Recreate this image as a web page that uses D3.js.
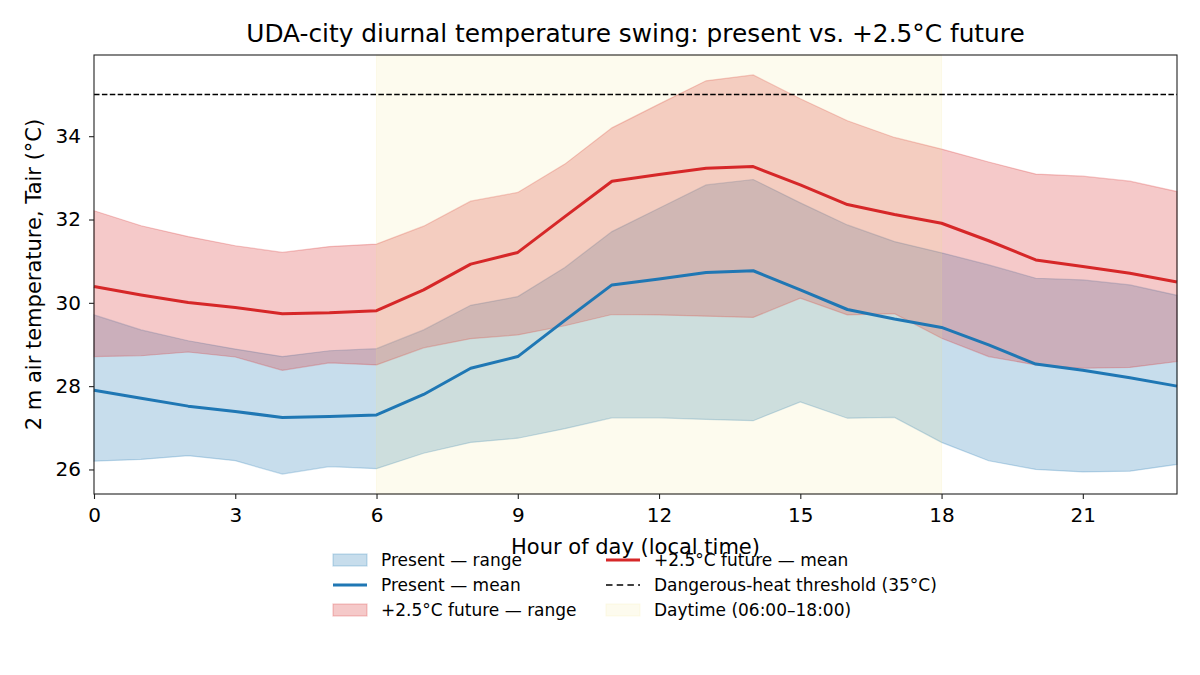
<!DOCTYPE html>
<html lang="en">
<head>
<meta charset="utf-8">
<title>Diurnal temperature swing</title>
<style>
  body { margin: 0; background: #fff; }
  svg text { font-family: "DejaVu Sans", sans-serif; fill: #000; }
</style>
</head>
<body>
<svg id="chart" width="1200" height="675"></svg>
<script src="https://cdn.jsdelivr.net/npm/d3@7"></script>
<script>
// hours 0..23
const hours = d3.range(0, 24);

const presentMin = [26.20, 26.24, 26.33, 26.21, 25.89, 26.07, 26.02, 26.39, 26.65, 26.75, 26.98, 27.24,
                    27.24, 27.20, 27.17, 27.62, 27.23, 27.25, 26.65, 26.21, 26.00, 25.94, 25.96, 26.12];
const presentMean = [27.90, 27.71, 27.52, 27.39, 27.25, 27.27, 27.31, 27.80, 28.43, 28.71, 29.58, 30.43,
                     30.57, 30.73, 30.77, 30.31, 29.84, 29.61, 29.41, 28.99, 28.53, 28.38, 28.20, 28.00];
const presentMax = [29.71, 29.35, 29.09, 28.89, 28.71, 28.85, 28.90, 29.35, 29.94, 30.15, 30.85, 31.71,
                    32.27, 32.83, 32.96, 32.40, 31.87, 31.47, 31.20, 30.91, 30.59, 30.55, 30.43, 30.18];

const futureMin = [28.71, 28.73, 28.82, 28.70, 28.38, 28.56, 28.51, 28.92, 29.14, 29.23, 29.45, 29.72,
                   29.71, 29.68, 29.65, 30.11, 29.71, 29.74, 29.15, 28.71, 28.51, 28.43, 28.45, 28.59];
const futureMean = [30.39, 30.19, 30.01, 29.89, 29.74, 29.76, 29.81, 30.31, 30.93, 31.21, 32.07, 32.92,
                    33.08, 33.23, 33.27, 32.83, 32.36, 32.12, 31.91, 31.49, 31.03, 30.87, 30.71, 30.50];
const futureMax = [32.21, 31.85, 31.59, 31.37, 31.21, 31.35, 31.41, 31.84, 32.44, 32.65, 33.33, 34.20,
                   34.77, 35.33, 35.47, 34.90, 34.37, 33.97, 33.69, 33.38, 33.09, 33.04, 32.92, 32.67];

const threshold = 35;
const daytime = [6, 18];
const xTicks = [0, 3, 6, 9, 12, 15, 18, 21];
const yTicks = [26, 28, 30, 32, 34];

const BLUE = "#1f77b4", RED = "#d62728", SPAN = "#f0e68c";

const svg = d3.select("#chart");
const margin = {left: 94, right: 23, top: 55, bottom: 181};
const W = 1200, H = 675;

const x = d3.scaleLinear().domain([0, 23]).range([margin.left, W - margin.right]);
const allVals = presentMin.concat(futureMax);
const lo = d3.min(allVals), hi = d3.max(allVals), pad = (hi - lo) * 0.05;
const y = d3.scaleLinear().domain([lo - pad, hi + pad]).range([H - margin.bottom, margin.top]);

const idx = hours.map((h, i) => i);
const band = (loArr, hiArr) => d3.area()
  .x(i => x(hours[i])).y0(i => y(loArr[i])).y1(i => y(hiArr[i]))(idx);
const line = arr => d3.line().x(i => x(hours[i])).y(i => y(arr[i]))(idx);

// ranges
svg.append("path").attr("d", band(presentMin, presentMax))
  .attr("fill", BLUE).attr("fill-opacity", 0.25)
  .attr("stroke", BLUE).attr("stroke-opacity", 0.25).attr("stroke-width", 1.2);
svg.append("path").attr("d", band(futureMin, futureMax))
  .attr("fill", RED).attr("fill-opacity", 0.25)
  .attr("stroke", RED).attr("stroke-opacity", 0.25).attr("stroke-width", 1.2);

// daytime span
svg.append("rect")
  .attr("x", x(daytime[0])).attr("width", x(daytime[1]) - x(daytime[0]))
  .attr("y", margin.top).attr("height", H - margin.bottom - margin.top)
  .attr("fill", SPAN).attr("fill-opacity", 0.15)
  .attr("stroke", SPAN).attr("stroke-opacity", 0.15);

// means
svg.append("path").attr("d", line(presentMean)).attr("fill", "none")
  .attr("stroke", BLUE).attr("stroke-width", 3).attr("stroke-linejoin", "round");
svg.append("path").attr("d", line(futureMean)).attr("fill", "none")
  .attr("stroke", RED).attr("stroke-width", 3).attr("stroke-linejoin", "round");

// threshold
svg.append("line")
  .attr("x1", margin.left).attr("x2", W - margin.right)
  .attr("y1", y(threshold)).attr("y2", y(threshold))
  .attr("stroke", "#000").attr("stroke-width", 1.5).attr("stroke-dasharray", "5.5,2.4");

// axes
const xAxis = svg.append("g").attr("transform", `translate(0,${H - margin.bottom})`)
  .call(d3.axisBottom(x).tickValues(xTicks).tickSize(5).tickPadding(9));
const yAxis = svg.append("g").attr("transform", `translate(${margin.left},0)`)
  .call(d3.axisLeft(y).tickValues(yTicks).tickSize(5).tickPadding(8));
[xAxis, yAxis].forEach(g => {
  g.selectAll("text").attr("font-size", 20).attr("font-family", "DejaVu Sans").attr("fill", "#000");
  g.selectAll("line").attr("stroke", "#222").attr("stroke-width", 1.1);
  g.select(".domain").remove();
});

svg.append("rect")
  .attr("x", margin.left).attr("y", margin.top)
  .attr("width", W - margin.left - margin.right).attr("height", H - margin.top - margin.bottom)
  .attr("fill", "none").attr("stroke", "#222").attr("stroke-width", 1.1);

// titles
svg.append("text").attr("x", (margin.left + W - margin.right) / 2).attr("y", 42)
  .attr("text-anchor", "middle").attr("font-size", 24.8)
  .text("UDA-city diurnal temperature swing: present vs. +2.5°C future");
svg.append("text").attr("x", (margin.left + W - margin.right) / 2).attr("y", 554)
  .attr("text-anchor", "middle").attr("font-size", 21)
  .text("Hour of day (local time)");
svg.append("text")
  .attr("transform", `translate(41,${(margin.top + H - margin.bottom) / 2}) rotate(-90)`)
  .attr("text-anchor", "middle").attr("font-size", 21)
  .text("2 m air temperature, Tair (°C)");

// legend
const legendItems = [
  {label: "Present — range", type: "patch", color: BLUE},
  {label: "Present — mean", type: "line", color: BLUE},
  {label: "+2.5°C future — range", type: "patch", color: RED},
  {label: "+2.5°C future — mean", type: "line", color: RED},
  {label: "Dangerous-heat threshold (35°C)", type: "dash", color: "#000"},
  {label: "Daytime (06:00–18:00)", type: "span", color: SPAN}
];
const colX = [333, 606], rowY = [560, 585, 610];
const leg = svg.append("g");
legendItems.forEach((d, i) => {
  const cx = colX[Math.floor(i / 3)], cy = rowY[i % 3];
  const g = leg.append("g").attr("transform", `translate(${cx},${cy})`);
  if (d.type === "patch" || d.type === "span") {
    const a = d.type === "span" ? 0.15 : 0.25;
    g.append("rect").attr("x", 0).attr("y", -6).attr("width", 34).attr("height", 12)
      .attr("fill", d.color).attr("fill-opacity", a)
      .attr("stroke", d.color).attr("stroke-opacity", a).attr("stroke-width", 1.2);
  } else {
    g.append("line").attr("x1", 0).attr("x2", 34).attr("y1", 0).attr("y2", 0)
      .attr("stroke", d.color).attr("stroke-width", d.type === "dash" ? 1.5 : 3)
      .attr("stroke-dasharray", d.type === "dash" ? "6.5,4.2" : null);
  }
  g.append("text").attr("x", 48).attr("y", 0).attr("dy", "0.35em")
    .attr("font-size", 17).text(d.label);
});
</script>
</body>
</html>
